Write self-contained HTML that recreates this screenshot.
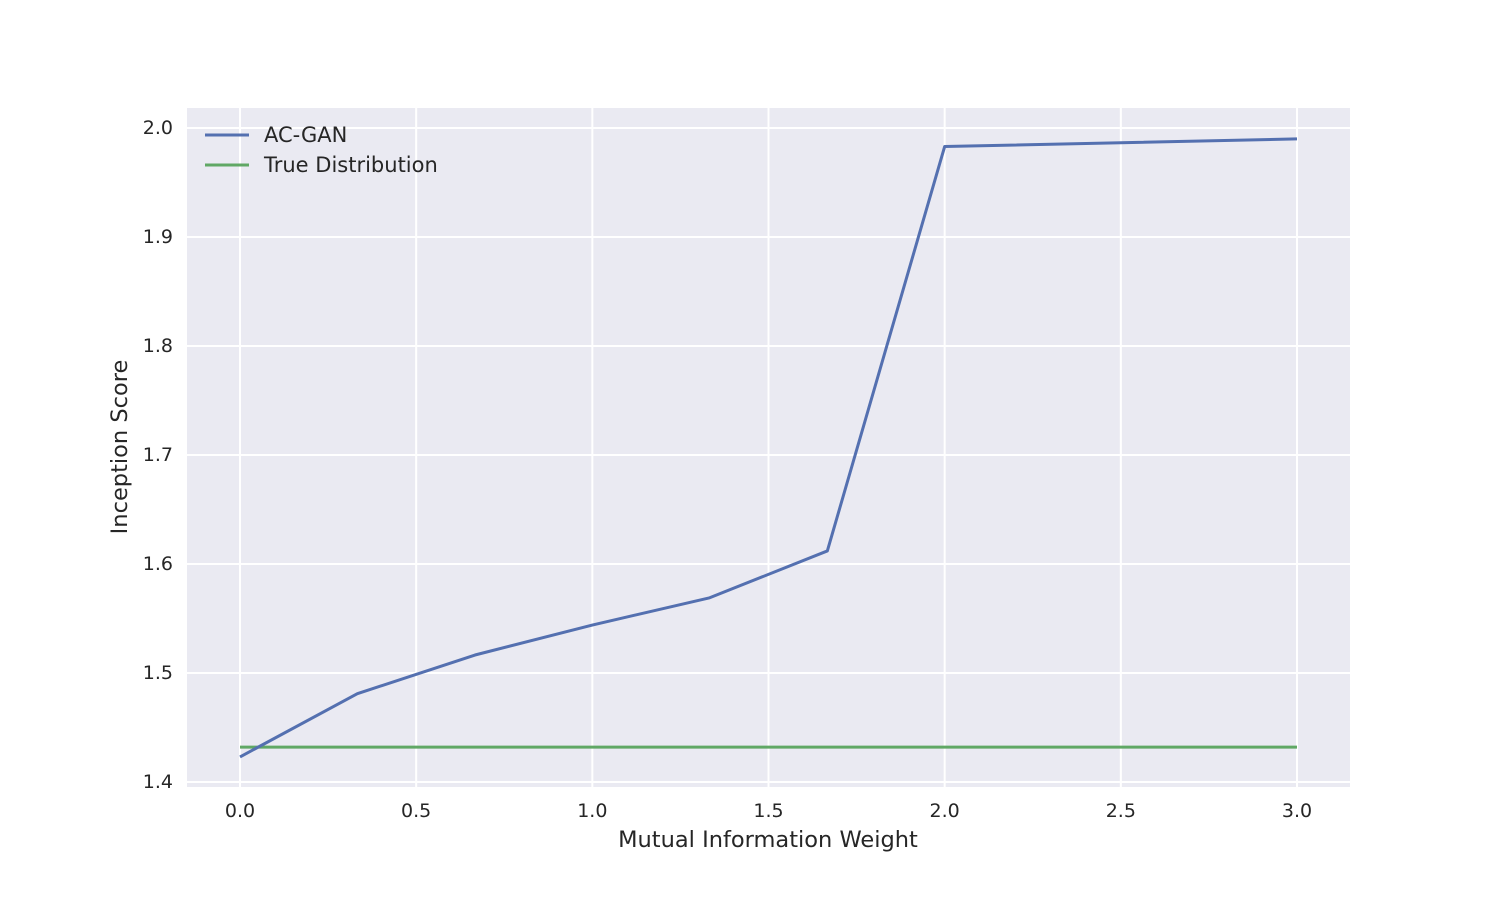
<!DOCTYPE html>
<html><head><meta charset="utf-8"><style>
body{margin:0;background:#fff}
svg text{font-family:"DejaVu Sans","Liberation Sans",sans-serif;fill:#262626}
</style></head><body>
<svg id="chart" width="1500" height="900" xmlns="http://www.w3.org/2000/svg">
<rect x="187" y="108" width="1163" height="679" fill="#eaeaf2"/>
<g id="grid"></g><g id="ticks"></g><g id="series"></g>
<text x="768" y="847" font-size="22.5" text-anchor="middle">Mutual Information Weight</text>
<text transform="translate(127,447) rotate(-90)" font-size="22.5" text-anchor="middle">Inception Score</text>
<g>
<line x1="205" y1="135" x2="249" y2="135" stroke="#5470b0" stroke-width="3"/>
<text x="264" y="142" font-size="21">AC-GAN</text>
<line x1="205" y1="165" x2="249" y2="165" stroke="#60a865" stroke-width="3"/>
<text x="264" y="172" font-size="21">True Distribution</text>
</g>
</svg>
<script>
const xValues=[0,0.333,0.667,1.0,1.333,1.667,2.0,3.0];
const acganValues=[1.423,1.481,1.5165,1.544,1.569,1.612,1.983,1.990];
const trueValue=1.432;
const xTicks=[0,0.5,1.0,1.5,2.0,2.5,3.0];
const yTicks=[1.4,1.5,1.6,1.7,1.8,1.9,2.0];
const NS="http://www.w3.org/2000/svg";
const sx=v=>240+v*352.33;
const sy=v=>782-(v-1.4)*1090;
function mk(tag,attrs,parent){const e=document.createElementNS(NS,tag);for(const k in attrs)e.setAttribute(k,attrs[k]);document.getElementById(parent).appendChild(e);return e;}
xTicks.forEach(t=>{
 const l=mk('line',{x1:sx(t),x2:sx(t),y1:108,y2:787,stroke:'#fff','stroke-width':2},'grid');
 
 
 const tx=mk('text',{x:sx(t),y:817,'font-size':19,'text-anchor':'middle'},'ticks');
 tx.textContent=t.toFixed(1);
 
 
});
yTicks.forEach(t=>{
 const l=mk('line',{x1:187,x2:1350,y1:sy(t),y2:sy(t),stroke:'#fff','stroke-width':2},'grid');
 
 
 const tx=mk('text',{x:173,y:sy(t)+6,'font-size':19,'text-anchor':'end'},'ticks');
 tx.textContent=t.toFixed(1);
 
 
});
const g=mk('line',{x1:sx(xValues[0]),x2:sx(xValues[xValues.length-1]),y1:sy(trueValue),y2:sy(trueValue),stroke:'#60a865','stroke-width':3},'series');


const p=mk('polyline',{points:xValues.map((x,i)=>sx(x)+','+sy(acganValues[i])).join(' '),fill:'none',stroke:'#5470b0','stroke-width':3,'stroke-linejoin':'round'},'series');


</script>
</body></html>
